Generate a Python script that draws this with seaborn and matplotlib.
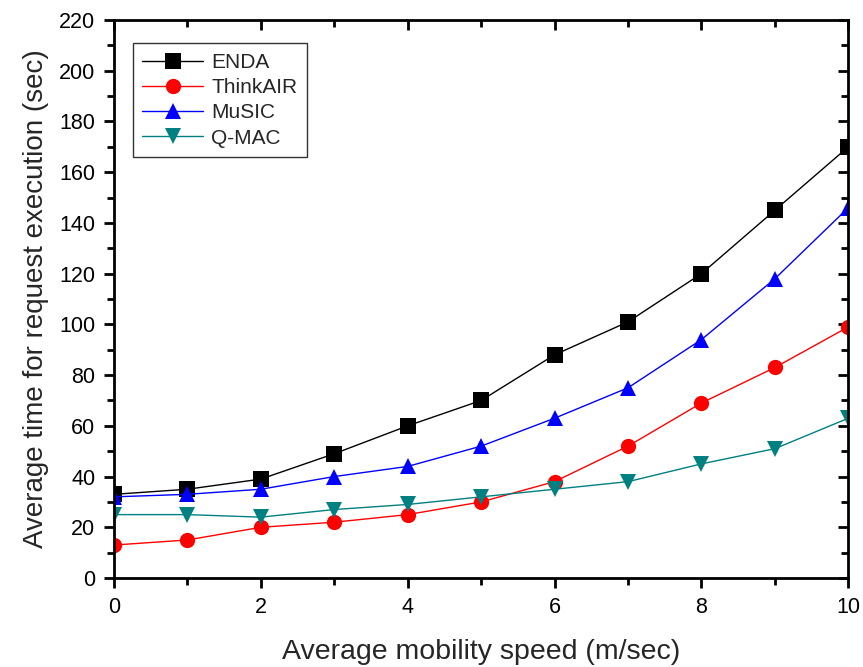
import pandas as pd
import matplotlib
matplotlib.use('Agg')
import matplotlib.pyplot as plt
import seaborn as sns
from matplotlib.ticker import MultipleLocator

speed = [0, 1, 2, 3, 4, 5, 6, 7, 8, 9, 10]
enda = [33, 35, 39, 49, 60, 70, 88, 101, 120, 145, 170]
thinkair = [13, 15, 20, 22, 25, 30, 38, 52, 69, 83, 99]
music = [32, 33, 35, 40, 44, 52, 63, 75, 94, 118, 146]
qmac = [25, 25, 24, 27, 29, 32, 35, 38, 45, 51, 63]

names = ['ENDA', 'ThinkAIR', 'MuSIC', 'Q-MAC']
colors = ['black', 'red', 'blue', '#008080']
markers = ['s', 'o', '^', 'v']

df = pd.DataFrame({
    'speed': speed * 4,
    'time': enda + thinkair + music + qmac,
    'method': [n for n in names for _ in speed],
})

sns.set_style('ticks')
plt.rcParams['font.family'] = ['Liberation Sans', 'DejaVu Sans']

fig = plt.figure(figsize=(8.63, 6.67), dpi=100)
ax = fig.add_axes([0.132, 0.1334, 0.851, 0.8366])

sns.lineplot(data=df, x='speed', y='time', hue='method', style='method',
             hue_order=names, style_order=names,
             palette=dict(zip(names, colors)),
             markers=dict(zip(names, markers)), dashes=False,
             markersize=11, markeredgewidth=0, linewidth=1, ax=ax)

ax.set_xlim(0, 10)
ax.set_ylim(0, 220)
ax.xaxis.set_major_locator(MultipleLocator(2))
ax.xaxis.set_minor_locator(MultipleLocator(1))
ax.yaxis.set_major_locator(MultipleLocator(20))
ax.yaxis.set_minor_locator(MultipleLocator(10))
for s in ax.spines.values():
    s.set_linewidth(2)
    s.set_color('black')
ax.tick_params(which='both', direction='out', width=2, labelsize=15.5,
               top=True, right=True, colors='black', pad=6)
ax.tick_params(which='major', length=7.5)
ax.tick_params(which='minor', length=5)
# ticks on the top and right edge point inward
for t in ax.xaxis.get_major_ticks() + ax.xaxis.get_minor_ticks():
    t.tick2line.set_marker(3)
for t in ax.yaxis.get_major_ticks() + ax.yaxis.get_minor_ticks():
    t.tick2line.set_marker(0)

ax.set_xlabel('Average mobility speed (m/sec)', fontsize=20.5, labelpad=15)
ax.set_ylabel('Average time for request execution (sec)', fontsize=20,
              labelpad=7)

leg = ax.legend(loc='upper left', bbox_to_anchor=(0.026, 0.958), fontsize=15,
                frameon=True, fancybox=False, edgecolor='black',
                handlelength=2.9, handletextpad=0.4, borderpad=0.45,
                labelspacing=0.3, borderaxespad=0)
leg.get_frame().set_linewidth(1)
leg.set_title(None)

fig.savefig('out.png', dpi=100)
